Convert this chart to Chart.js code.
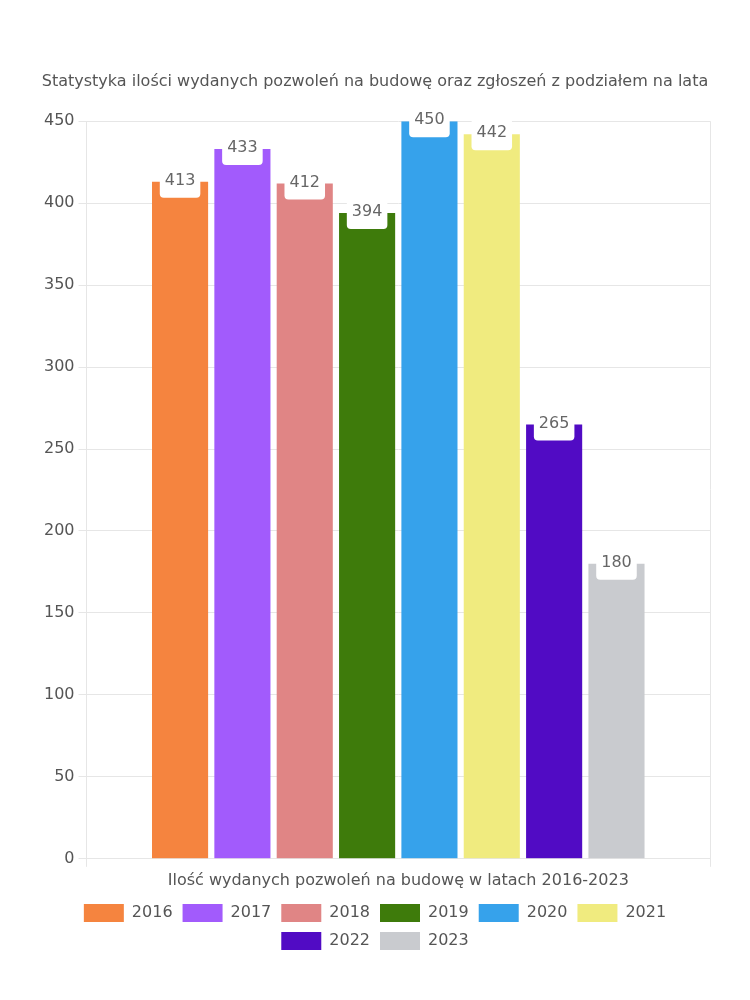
<!DOCTYPE html>
<html><head><meta charset="utf-8">
<script src="https://cdn.jsdelivr.net/npm/chart.js@4"></script>
<style>html,body{margin:0;padding:0;background:#fff}canvas{display:block}</style>
</head><body>
<canvas id="c" width="750" height="1000"></canvas>
<script>
const categories = ["Ilość wydanych pozwoleń na budowę w latach 2016-2023"];
const years = ["2016","2017","2018","2019","2020","2021","2022","2023"];
const values = [413, 433, 412, 394, 450, 442, 265, 180];
const colors = ["#F5843F","#A25BFC","#E08585","#3E7B0B","#36A2EB","#F0EB7F","#510BC4","#C9CBCF"];
const yTicks = [0,50,100,150,200,250,300,350,400,450];

const FONT = "'DejaVu Sans', sans-serif";

const labelPlugin = {
  id: 'boxLabels',
  afterDatasetsDraw(chart) {
    const ctx = chart.ctx;
    ctx.save();
    ctx.font = "16px " + FONT;
    ctx.textAlign = 'center';
    ctx.textBaseline = 'middle';
    chart.data.datasets.forEach((ds, i) => {
      const meta = chart.getDatasetMeta(i);
      meta.data.forEach((bar, j) => {
        const txt = String(ds.data[j]);
        const w = ctx.measureText(txt).width + 10;
        const h = 32;
        const x = bar.x - w / 2, y = bar.y - h / 2;
        ctx.fillStyle = '#fff';
        ctx.beginPath();
        ctx.roundRect(x, y, w, h, 4);
        ctx.fill();
        ctx.fillStyle = '#666';
        ctx.fillText(txt, bar.x, bar.y - 1);
      });
    });
    ctx.restore();
  }
};

new Chart(document.getElementById('c'), {
  type: 'bar',
  data: {
    labels: categories,
    datasets: years.map((y, i) => ({
      label: y,
      data: [values[i]],
      backgroundColor: colors[i],
      borderWidth: 0
    }))
  },
  options: {
    responsive: false,
    animation: false,
    devicePixelRatio: 1,
    layout: { padding: { top: 72, left: 40, right: 40, bottom: 40 } },
    datasets: { bar: { categoryPercentage: 0.8, barPercentage: 0.9 } },
    plugins: {
      title: {
        display: true,
        text: 'Statystyka ilości wydanych pozwoleń na budowę oraz zgłoszeń z podziałem na lata',
        color: '#555',
        font: { family: FONT, size: 16, weight: 'normal' },
        padding: { top: 0, bottom: 30 }
      },
      legend: {
        position: 'bottom',
        labels: {
          boxWidth: 40, boxHeight: 18,
          color: '#555',
          font: { family: FONT, size: 16 },
          padding: 10
        }
      },
      tooltip: { enabled: false }
    },
    scales: {
      x: {
        grid: { color: '#e6e6e6', tickLength: 8 },
        border: { color: '#e6e6e6' },
        ticks: { color: '#555', font: { family: FONT, size: 16 }, padding: 4 }
      },
      y: {
        min: 0, max: 450,
        afterBuildTicks(axis) { axis.ticks = yTicks.map(v => ({ value: v })); },
        grid: { color: '#e6e6e6', tickLength: 8 },
        border: { color: '#e6e6e6' },
        ticks: { color: '#555', font: { family: FONT, size: 16 }, padding: 4 }
      }
    }
  },
  plugins: [labelPlugin]
});
</script>
</body></html>
